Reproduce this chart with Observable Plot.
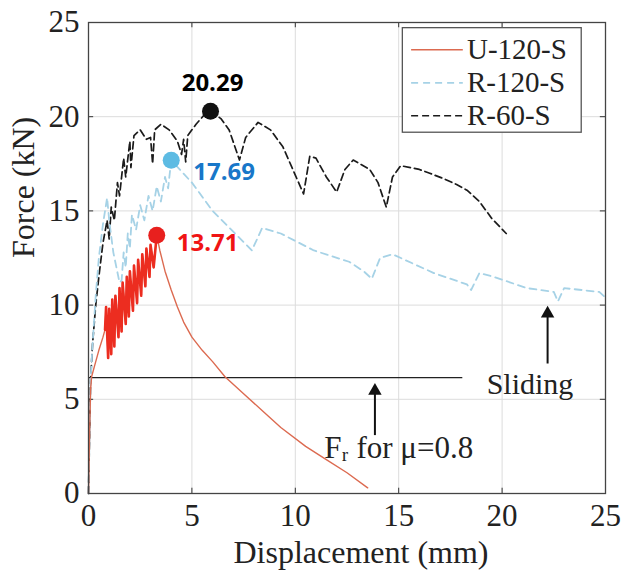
<!DOCTYPE html>
<html>
<head>
<meta charset="utf-8">
<script src="https://cdn.jsdelivr.net/npm/d3@7"></script>
<script src="https://cdn.jsdelivr.net/npm/@observablehq/plot@0.6"></script>
<style>
  html, body { margin: 0; padding: 0; background: #fff; }
  #chart { width: 626px; height: 579px; }
</style>
</head>
<body>
<div id="chart"></div>
<script>
// ---- data ----
const xTicks = [0, 5, 10, 15, 20, 25];
const yTicks = [0, 5, 10, 15, 20, 25];

const seriesNames = ["U-120-S", "R-120-S", "R-60-S"];

const dispU = [0,0.05,0.1,0.15,0.3,0.5,0.7,0.8,0.85,0.95,1.0,1.1,1.15,1.25,1.3,1.45,1.5,1.6,1.65,1.8,1.85,1.95,2.0,2.15,2.2,2.35,2.4,2.55,2.6,2.75,2.8,2.95,3.0,3.15,3.3,3.45,3.7,4.0,4.3,4.6,5.0,5.5,6.0,6.6,7.5,8.5,9.3,10.5,11.5,12.5,13.5];
const forceU = [0,3,5.5,6.2,6.8,7.6,8.3,8.7,9.9,7.2,9.8,7.4,10.3,7.8,10.5,8.3,10.9,8.6,11.2,9.0,11.5,9.4,11.8,9.7,12.1,10.1,12.4,10.5,12.7,11.0,13.0,11.5,13.2,12.0,13.71,12.9,11.8,10.8,9.9,9.1,8.3,7.6,7.0,6.2,5.3,4.3,3.5,2.5,1.8,1.1,0.3];

const dispR120 = [0,0.05,0.1,0.2,0.35,0.5,0.7,0.9,1.0,1.2,1.5,1.6,1.7,1.8,1.9,2.0,2.1,2.3,2.5,2.7,2.9,3.1,3.3,3.5,3.7,3.85,4.0,5.0,6.0,7.0,7.9,8.4,9.3,10.9,12.6,13.3,13.7,14.1,14.7,16.7,18.3,18.5,18.9,19.6,21.2,22.5,22.7,23.0,24.7,25.0];
const forceR120 = [0,3,6,8,10.5,12.5,14.3,15.7,14.5,12.8,11.2,11.3,12.8,12.0,13.8,13.0,14.8,14.0,15.3,14.5,15.8,15.0,16.3,15.5,16.8,16.2,17.69,16.5,15.0,13.9,12.9,14.1,13.8,12.9,12.3,11.8,11.4,12.5,12.7,11.7,11.1,10.8,11.7,11.5,10.9,10.7,10.2,10.9,10.7,10.4];

const dispR60 = [0,0.05,0.1,0.2,0.35,0.5,0.7,0.9,1.0,1.1,1.25,1.4,1.5,1.7,1.8,2.0,2.05,2.2,2.5,2.8,3.0,3.1,3.2,3.5,3.9,4.3,4.5,4.6,4.7,4.8,5.2,5.6,5.9,6.4,6.8,7.3,7.6,8.2,8.8,9.4,10.0,10.4,10.7,11.0,11.5,12.0,12.4,12.8,13.6,14.0,14.4,14.7,15.1,16.0,16.5,17.2,17.8,18.3,18.9,19.5,20.2];
const forceR60 = [0,3,6,8,10,11.5,13.3,14.5,13.5,15.2,14.5,16.5,15.8,17.8,16.8,18.7,17.3,19.0,19.3,18.8,18.9,17.5,19.3,19.6,19.3,18.7,18.0,18.8,17.6,19.0,19.6,20.1,20.29,19.9,19.3,17.7,18.9,19.7,19.3,18.4,16.9,15.9,17.9,17.8,16.8,16.0,17.2,17.7,17.2,16.5,15.2,16.8,17.4,17.2,17.0,16.7,16.4,16.1,15.5,14.6,13.8];

const peakNames = ["U-120-S", "R-120-S", "R-60-S"];
const peakDisp = [3.3, 4.0, 5.9];
const peakForce = [13.71, 17.69, 20.29];
const peakLabels = ["13.71", "17.69", "20.29"];

const frictionForce = 6.15;      // Fr for mu = 0.8
const frictionEnd = 18.1;
const annotationText = ["Fᵣ for μ=0.8", "Sliding"];
const arrowX = [13.85, 22.2];
const arrowFrom = [3.1, 6.9];
const arrowTo = [5.75, 9.85];

// ---- build tables ----
const zip = (name, xs, ys) => xs.map((x, i) => ({series: name, x, y: ys[i]}));
const rowsU = zip("U-120-S", dispU, forceU);
const rowsR120 = zip("R-120-S", dispR120, forceR120);
const rowsR60 = zip("R-60-S", dispR60, forceR60);
const peaks = peakNames.map((s, i) => ({series: s, x: peakDisp[i], y: peakForce[i], label: peakLabels[i]}));

const style = {
  "U-120-S": {stroke: "#dc6a50", dash: null, width: 1.4},
  "R-120-S": {stroke: "#a6d2e6", dash: "7,5", width: 1.8},
  "R-60-S":  {stroke: "#1b1b1b", dash: "7,4", width: 1.7}
};
const dotColor = {"U-120-S": "#e8201e", "R-120-S": "#5dbbe3", "R-60-S": "#111111"};
const labelColor = {"U-120-S": "#f01414", "R-120-S": "#1877c9", "R-60-S": "#000000"};
const labelOffset = {"U-120-S": [20, 8, "start"], "R-120-S": [22, 12, "start"], "R-60-S": [2, -28, "middle"]};

// legend layout (data coordinates inside the frame)
const legendBox = [{x1: 15.2, x2: 23.85, y1: 19.15, y2: 24.7}];
const legendRows = seriesNames.map((s, i) => ({series: s, y: 23.55 - i * 1.75, x1: 15.6, x2: 18.1, tx: 18.3}));

const serif = "'Liberation Serif', 'DejaVu Serif', serif";
const sans = "'Open Sans', 'Liberation Sans', sans-serif";

const lineFor = (rows, s) => Plot.line(rows, {x: "x", y: "y", stroke: style[s].stroke, strokeWidth: style[s].width, strokeDasharray: style[s].dash, curve: "linear"});

const chart = Plot.plot({
  width: 626,
  height: 579,
  marginLeft: 88,
  marginRight: 21,
  marginTop: 22,
  marginBottom: 86,
  x: {domain: [0, 25]},
  y: {domain: [0, 25]},
  style: {background: "#fff", fontFamily: serif},
  marks: [
    Plot.gridX(xTicks, {stroke: "#dcdcdc", strokeOpacity: 1}),
    Plot.gridY(yTicks, {stroke: "#dcdcdc", strokeOpacity: 1}),
    // inward ticks on all four sides
    Plot.ruleX(xTicks, {y1: 0, y2: 0.28, stroke: "#333"}),
    Plot.ruleX(xTicks, {y1: 24.72, y2: 25, stroke: "#333"}),
    Plot.ruleY(yTicks, {x1: 0, x2: 0.25, stroke: "#333"}),
    Plot.ruleY(yTicks, {x1: 24.75, x2: 25, stroke: "#333"}),
    Plot.axisX(xTicks, {tickSize: 0, tickPadding: 10, label: null, fontSize: 31, fontFamily: serif, fill: "#222"}),
    Plot.axisY(yTicks, {tickSize: 0, tickPadding: 9, label: null, fontSize: 31, fontFamily: serif, fill: "#222"}),
    Plot.text(["Displacement (mm)"], {frameAnchor: "bottom", dx: 14, dy: 69, fontSize: 32, fontFamily: serif, fill: "#222"}),
    Plot.text(["Force (kN)"], {frameAnchor: "left", dx: -65, rotate: -90, fontSize: 32, fontFamily: serif, fill: "#222"}),
    // friction line and annotations
    Plot.ruleY([frictionForce], {x1: 0, x2: frictionEnd, stroke: "#222", strokeWidth: 1.4}),
    Plot.link(arrowX.map((x, i) => ({x, y1: arrowFrom[i], y2: arrowTo[i] - 0.3})), {x1: "x", x2: "x", y1: "y1", y2: "y2", stroke: "#111", strokeWidth: 2}),
    Plot.dot(arrowX.map((x, i) => ({x, y: arrowTo[i] - 0.3})), {x: "x", y: "y", symbol: "triangle", r: 5, fill: "#111", stroke: "none"}),
    Plot.text([annotationText[0]], {x: 15.0, y: 2.4, fontSize: 31, fontFamily: serif, fill: "#222"}),
    Plot.text([annotationText[1]], {x: 21.35, y: 5.8, fontSize: 30, fontFamily: serif, fill: "#222"}),
    // curves
    lineFor(rowsR60, "R-60-S"),
    lineFor(rowsR120, "R-120-S"),
    lineFor(rowsU, "U-120-S"),
    Plot.line(rowsU.filter(d => d.x > 0.75 && d.x <= 3.3), {x: "x", y: "y", stroke: "#ec2d20", strokeWidth: 2.6}),
    // peaks
    Plot.dot(peaks, {x: "x", y: "y", r: 8.5, fill: d => dotColor[d.series], stroke: "none"}),
    ...peaks.map(p => Plot.text([p], {x: "x", y: "y", text: "label", dx: labelOffset[p.series][0], dy: labelOffset[p.series][1], textAnchor: labelOffset[p.series][2], fill: labelColor[p.series], fontSize: 24, fontWeight: "bold", fontFamily: sans})),
    // legend
    Plot.rect(legendBox, {x1: "x1", x2: "x2", y1: "y1", y2: "y2", fill: "#fff", stroke: "#555", strokeWidth: 1.3}),
    ...legendRows.map(r => Plot.link([r], {x1: "x1", x2: "x2", y1: "y", y2: "y", stroke: style[r.series].stroke, strokeWidth: style[r.series].width, strokeDasharray: style[r.series].dash})),
    Plot.text(legendRows, {x: "tx", y: "y", text: "series", textAnchor: "start", fontSize: 29, fontFamily: serif, fill: "#222"}),
    Plot.frame({stroke: "#444", strokeWidth: 1.3})
  ]
});
document.getElementById("chart").appendChild(chart);
</script>
</body>
</html>
